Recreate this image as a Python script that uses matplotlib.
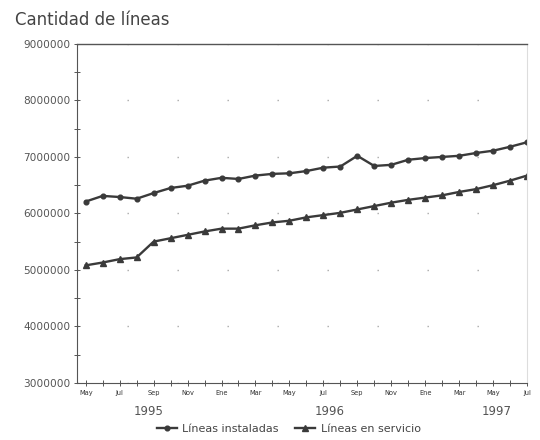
import matplotlib.pyplot as plt
import matplotlib.transforms as mtransforms
from matplotlib.lines import Line2D

# Monthly data, May 1995 - Jul 1997
months = ["May", "Jun", "Jul", "Ago", "Sep", "Oct", "Nov", "Dic", "Ene", "Feb", "Mar", "Abr",
          "May", "Jun", "Jul", "Ago", "Sep", "Oct", "Nov", "Dic", "Ene", "Feb", "Mar", "Abr",
          "May", "Jun", "Jul"]
instaladas = [6210000, 6310000, 6290000, 6260000, 6360000, 6450000, 6490000, 6580000, 6630000,
              6610000, 6670000, 6700000, 6710000, 6750000, 6810000, 6830000, 7020000, 6840000,
              6860000, 6950000, 6980000, 7000000, 7020000, 7070000, 7110000, 7180000, 7260000]
en_servicio = [5080000, 5130000, 5190000, 5220000, 5500000, 5560000, 5620000, 5680000, 5730000,
               5730000, 5790000, 5840000, 5870000, 5930000, 5970000, 6010000, 6070000, 6130000,
               6190000, 6240000, 6280000, 6320000, 6380000, 6430000, 6500000, 6580000, 6670000]
years = ["1995", "1996", "1997"]
year_pos = [3.7, 14.4, 24.2]

x = list(range(len(months)))
col = "#3a3a3a"

fig = plt.figure(figsize=(5.4, 4.4), dpi=100)
ax = fig.add_axes([0.143, 0.13, 0.833, 0.77])

ax.plot(x, instaladas, color=col, lw=1.7, marker="o", ms=3.4, label="Líneas instaladas")
ax.plot(x, en_servicio, color=col, lw=1.7, marker="^", ms=3.8, label="Líneas en servicio")

ax.set_xlim(-0.5, 26)
ax.set_ylim(3000000, 9000000)
ax.set_yticks(range(3000000, 9000001, 1000000))
ax.set_yticks(range(3500000, 9000000, 1000000), minor=True)
ax.set_yticklabels([str(v) for v in range(3000000, 9000001, 1000000)],
                   fontsize=7.6, color="#555555")
ax.set_xticks(x[::2])
ax.set_xticklabels(months[::2], fontsize=4.8, color="#333333")
ax.set_xticks(x, minor=True)
ax.tick_params(axis="both", which="both", direction="inout", length=4, width=0.7, color="#555555")
ax.tick_params(axis="y", which="major", pad=3)
ax.tick_params(axis="x", which="major", pad=3)

# sparse dotted grid
ax.grid(axis="y", which="major", color="#aaaaaa", lw=1.0, linestyle=(0, (1, 35)))

for s in ["left", "bottom"]:
    ax.spines[s].set_color("#555555")
    ax.spines[s].set_linewidth(0.8)
ax.spines["top"].set_color("#555555")
ax.spines["top"].set_linewidth(1.0)
ax.spines["right"].set_color("#dddddd")

trans = mtransforms.blended_transform_factory(ax.transData, ax.transAxes)
for yr, p in zip(years, year_pos):
    ax.text(p, -0.085, yr, transform=trans, ha="center", va="center",
            fontsize=8.5, color="#555555", family="Liberation Sans Narrow")

fig.text(0.027, 0.955, "Cantidad de líneas", fontsize=12, color="#444444", va="center")

handles = [Line2D([], [], color=col, lw=1.7, marker="o", ms=3.4),
           Line2D([], [], color=col, lw=1.7, marker="^", ms=3.8)]
fig.legend(handles, ["Líneas instaladas", "Líneas en servicio"], loc="center",
           bbox_to_anchor=(0.535, 0.025), ncol=2, frameon=False, fontsize=8,
           handlelength=1.8, columnspacing=1.5, handletextpad=0.5, labelcolor="#444444")

fig.savefig("out.png", dpi=100)
